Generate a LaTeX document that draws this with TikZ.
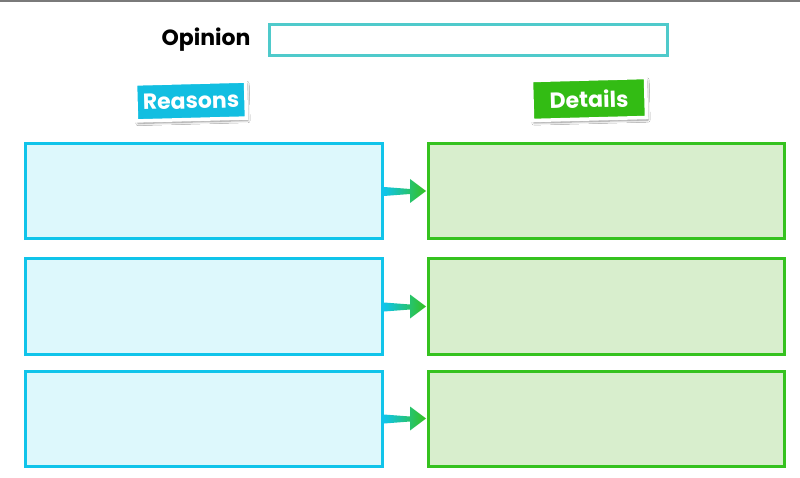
\documentclass[tikz,border=0pt]{standalone}
\usepackage{fontspec}
\setmainfont{Poppins}
\usetikzlibrary{calc,shadows.blur}

\definecolor{reasonline}{HTML}{10C4EA}
\definecolor{reasonfill}{HTML}{DDF8FC}
\definecolor{detailline}{HTML}{35C21F}
\definecolor{detailfill}{HTML}{D8EECD}
\definecolor{opinionline}{HTML}{4FCACB}
\definecolor{reasontag}{HTML}{12BEE1}
\definecolor{detailtag}{HTML}{33BC14}
\definecolor{topbar}{HTML}{7A7A7A}

\tikzset{
  reasonbox/.style={draw=reasonline, fill=reasonfill, line width=3pt,
    minimum width=357pt, minimum height=95pt, inner sep=0pt},
  detailbox/.style={draw=detailline, fill=detailfill, line width=3pt,
    minimum width=356pt, minimum height=95pt, inner sep=0pt},
  tagbox/.style={draw=white, line width=3.5pt, rotate=1.5, inner sep=0pt,
    text=white, font=\bfseries\fontsize{22}{26}\selectfont,
    blur shadow={shadow xshift=1.5pt, shadow yshift=-2.5pt, shadow blur steps=6, shadow opacity=45}},
}

% gradient arrow from a reason box to the detail box beside it
\newcommand{\linkarrow}[2]{%
  \path[left color=reasonline, right color=detailline]
    ($(#1.east)+(0,5)$) -- ($(#1.east)+(26,3)$) -- ($(#1.east)+(26,12)$)
    -- ($(#2.west)+(-1,0)$)
    -- ($(#1.east)+(26,-12)$) -- ($(#1.east)+(26,-2)$) -- ($(#1.east)+(0,-4)$) -- cycle;}

\begin{document}
\begin{tikzpicture}[x=1pt,y=-1pt]
  \useasboundingbox (0,0) rectangle (800,478);
  \fill[white] (0,0) rectangle (800,478);
  \draw[topbar, line width=2pt] (0,1) -- (800,1);

  % opinion line
  \node[font=\bfseries\fontsize{22}{26}\selectfont] (opinion) at (206,40) {Opinion};
  \node[draw=opinionline, line width=3pt, minimum width=398pt, minimum height=31pt, inner sep=0pt]
    (opinionbox) at (468,40.5) {};

  % column headings
  \node[tagbox, fill=reasontag, minimum width=110pt, minimum height=37pt] (reasontag) at (191,101)
    {Reasons};
  \node[tagbox, fill=detailtag, minimum width=114pt, minimum height=40pt] (detailtag) at (589,99)
    {Details};

  % rows of boxes
  \node[reasonbox] (r1) at (204,191) {};
  \node[reasonbox] (r2) at (204,306.5) {};
  \node[reasonbox] (r3) at (204,418.5) {};
  \node[detailbox] (d1) at (606.5,191) {};
  \node[detailbox] (d2) at (606.5,306.5) {};
  \node[detailbox] (d3) at (606.5,418.5) {};

  \linkarrow{r1}{d1}
  \linkarrow{r2}{d2}
  \linkarrow{r3}{d3}
\end{tikzpicture}
\end{document}
